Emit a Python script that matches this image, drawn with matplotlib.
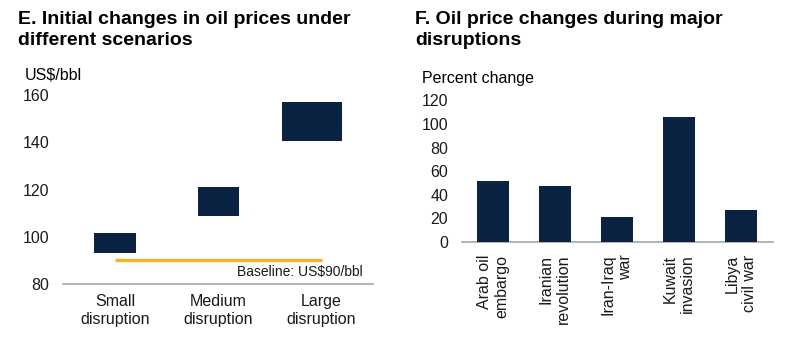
import numpy as np
import matplotlib.pyplot as plt

##############################################################################
# DATA
# panel E: price ranges per scenario (US$/bbl)
scenarios = ['Small\ndisruption', 'Medium\ndisruption', 'Large\ndisruption']
price_low = [93, 109, 140.5]
price_high = [101.5, 121, 157]
baseline_price = 90

# panel F: percent change during major disruptions
events = ['Arab oil\nembargo', 'Iranian\nrevolution', 'Iran-Iraq\nwar',
          'Kuwait\ninvasion', 'Libya\ncivil war']
pct_change = [52, 47.5, 21.5, 105.5, 27.5]

##############################################################################
# STYLE
navy = '#0b2343'
gold = '#f3b41d'
axis_gray = '#a6a6a6'
plt.rcParams['font.family'] = ['Liberation Sans', 'DejaVu Sans']
plt.rcParams['font.size'] = 11.5

fig = plt.figure(figsize=(8, 3.41), dpi=100)

# panel E axes
ax1 = fig.add_axes([0.079, 0.167, 0.3875, 0.554])
# panel F axes
ax2 = fig.add_axes([0.5775, 0.290, 0.389, 0.416])

for ax in [ax1, ax2]:
    for s in ['top', 'right', 'left']:
        ax.spines[s].set_visible(False)
    ax.spines['bottom'].set_color(axis_gray)
    ax.spines['bottom'].set_linewidth(1.2)
    ax.tick_params(axis='both', length=0, labelsize=11.5, colors='#1a1a1a')
    ax.tick_params(axis='y', pad=10)

##############################################################################
# PANEL E
x1 = np.arange(len(scenarios))
box_width = [0.4, 0.4, 0.58]
box_shift = [0, 0, -0.09]
heights = np.array(price_high) - np.array(price_low)
ax1.bar(x1 + np.array(box_shift), heights, bottom=price_low, width=box_width,
        color=navy, zorder=3)
ax1.hlines(baseline_price, x1[0], x1[-1], color=gold, linewidth=2.4, zorder=2)
ax1.text(2.40, 85, 'Baseline: US$90/bbl', ha='right', va='center', fontsize=10,
         color='#1a1a1a')
ax1.set_xlim(-0.5, 2.5)
ax1.set_ylim(80, 160)
ax1.set_yticks([80, 100, 120, 140, 160])
ax1.set_xticks(x1)
ax1.set_xticklabels(scenarios, linespacing=1.25)
ax1.tick_params(axis='x', pad=7)

##############################################################################
# PANEL F
x2 = np.arange(len(events))
ax2.bar(x2, pct_change, width=0.52, color=navy, zorder=3)
ax2.set_xlim(-0.5, 4.52)
ax2.set_ylim(0, 120)
ax2.set_yticks(np.arange(0, 121, 20))
ax2.set_xticks(x2)
ax2.set_xticklabels(events, rotation=90, ha='center', va='top',
                    multialignment='right', linespacing=1.2)
ax2.tick_params(axis='x', pad=9)

##############################################################################
# TITLES AND UNITS
fig.text(18/800, 1 - 11/341, 'E. Initial changes in oil prices under\ndifferent scenarios',
         ha='left', va='top', fontsize=14, fontweight='bold', linespacing=1.3)
fig.text(415/800, 1 - 11/341, 'F. Oil price changes during major\ndisruptions',
         ha='left', va='top', fontsize=14, fontweight='bold', linespacing=1.3)
fig.text(25/800, 1 - 75/341, 'US$/bbl', ha='left', va='center', fontsize=11.5)
fig.text(422/800, 1 - 78/341, 'Percent change', ha='left', va='center', fontsize=11.5)

plt.savefig('out.png', dpi=100)
plt.close()
